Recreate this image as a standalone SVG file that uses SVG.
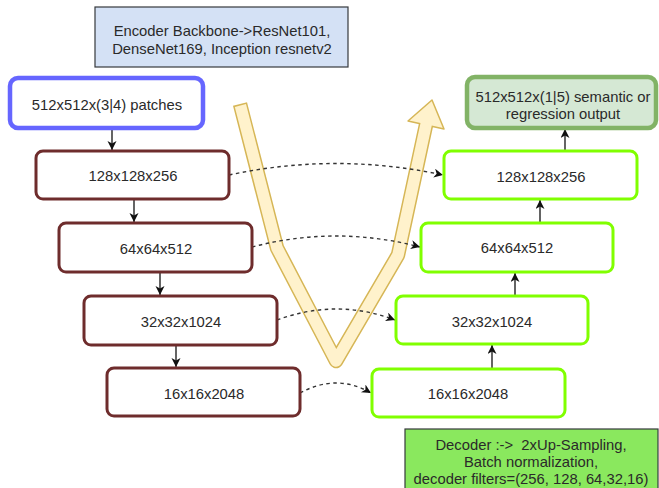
<svg xmlns="http://www.w3.org/2000/svg" width="659" height="488" viewBox="0 0 659 488">
<style>
text{font-family:"Liberation Sans",Arial,sans-serif;font-size:14.8px;fill:#2a2a2a;text-anchor:middle}
.enc{fill:#fff;stroke:#6e2c2c;stroke-width:3}
.dec{fill:#fff;stroke:#80ff00;stroke-width:3}
.solid{fill:none;stroke:#111;stroke-width:1.3}
.dash{fill:none;stroke:#333;stroke-width:1.4;stroke-dasharray:3.5 3.5}
</style>
<defs>
<marker id="arr" markerUnits="userSpaceOnUse" markerWidth="12" markerHeight="12" refX="9" refY="4.5" orient="auto">
<path d="M0,0 L9,4.5 L0,9 L2.5,4.5 z" fill="#111"/>
</marker>
</defs>
<rect width="659" height="488" fill="#fff"/>

<g id="v-arrow">
<path d="M240 104 L277 248 L336 361 L398 255 L426 125" fill="none" stroke="#d6b656" stroke-width="14.5" stroke-linejoin="round"/>
<polygon points="432,100 444,129 408,121" fill="#fff2cc" stroke="#d6b656" stroke-width="1.5" stroke-linejoin="round"/>
<path d="M240.4 105.5 L277 248 L336 361 L398 255 L426.4 123" fill="none" stroke="#fff2cc" stroke-width="11.5" stroke-linejoin="round"/>
</g>

<g id="connectors">
<path class="solid" d="M112 128 V150" marker-end="url(#arr)"/>
<path class="solid" d="M134 199 V222" marker-end="url(#arr)"/>
<path class="solid" d="M160 272 V295" marker-end="url(#arr)"/>
<path class="solid" d="M176 345 V367" marker-end="url(#arr)"/>
<path class="solid" d="M492 369 V345" marker-end="url(#arr)"/>
<path class="solid" d="M512 296 H515 V273" marker-end="url(#arr)"/>
<path class="solid" d="M537 223 H540 V200" marker-end="url(#arr)"/>
<path class="solid" d="M565 151 V129" marker-end="url(#arr)"/>
<path class="dash" d="M229 175 Q336 152 443 175" marker-end="url(#arr)"/>
<path class="dash" d="M252 247 Q336 225 420 247" marker-end="url(#arr)"/>
<path class="dash" d="M277 320 Q337 298 395 320" marker-end="url(#arr)"/>
<path class="dash" d="M300 393 Q337 373 371 393" marker-end="url(#arr)"/>
</g>

<g id="encoder-note">
<rect x="95" y="7" width="253" height="60" fill="#d4e1f5" stroke="#36393d" stroke-width="1.2"/>
<text x="222" y="36">Encoder Backbone-&gt;ResNet101,</text>
<text x="222" y="53.5">DenseNet169, Inception resnetv2</text>
</g>

<g id="input">
<rect x="10" y="78" width="193" height="50" rx="8" fill="#fff" stroke="#6666ff" stroke-width="4.5"/>
<text x="107" y="110">512x512x(3|4) patches</text>
</g>

<g id="enc1">
<rect class="enc" x="36" y="151" width="193" height="48" rx="7"/>
<text x="133" y="181">128x128x256</text>
</g>
<g id="enc2">
<rect class="enc" x="59" y="223" width="193" height="49" rx="7"/>
<text x="156" y="254">64x64x512</text>
</g>
<g id="enc3">
<rect class="enc" x="84" y="296" width="193" height="49" rx="7"/>
<text x="181" y="327">32x32x1024</text>
</g>
<g id="enc4">
<rect class="enc" x="107" y="368" width="193" height="48" rx="7"/>
<text x="204" y="399">16x16x2048</text>
</g>

<g id="dec4">
<rect class="dec" x="372" y="369" width="193" height="48" rx="7"/>
<text x="468" y="399">16x16x2048</text>
</g>
<g id="dec3">
<rect class="dec" x="396" y="296" width="192" height="48" rx="7"/>
<text x="492" y="327">32x32x1024</text>
</g>
<g id="dec2">
<rect class="dec" x="421" y="223" width="192" height="49" rx="7"/>
<text x="517" y="253">64x64x512</text>
</g>
<g id="dec1">
<rect class="dec" x="444" y="151" width="193" height="48" rx="7"/>
<text x="541" y="182">128x128x256</text>
</g>

<g id="output">
<rect x="467" y="77" width="189" height="51" rx="8" fill="#d5e8d4" stroke="#82b366" stroke-width="4.5"/>
<text x="563" y="102">512x512x(1|5) semantic or</text>
<text x="563" y="118.5">regression output</text>
</g>

<g id="decoder-note">
<rect x="405" y="429" width="253" height="65" fill="#8ae85e" stroke="#36393d" stroke-width="1.2"/>
<text x="531" y="449.5">Decoder :-&gt;&#160; 2xUp-Sampling,</text>
<text x="531" y="467">Batch normalization,</text>
<text x="531" y="484">decoder filters=(256, 128, 64,32,16)</text>
</g>
</svg>
